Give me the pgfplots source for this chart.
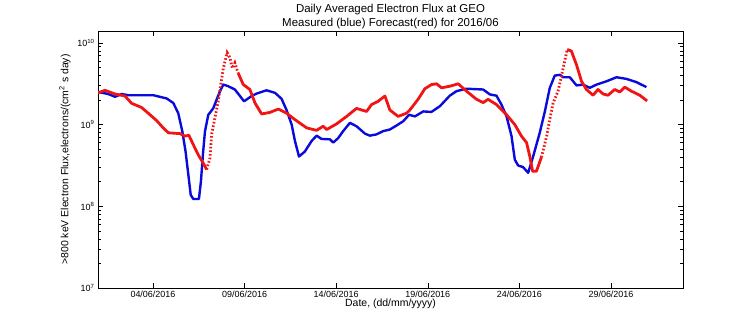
\documentclass[border=0pt]{standalone}
\usepackage{fontspec}
\setmainfont{Liberation Sans}
\usepackage{pgfplots}
\pgfplotsset{compat=1.18}
\definecolor{mblue}{RGB}{10,10,220}
\definecolor{mred}{RGB}{240,20,20}
\begin{document}
\begin{tikzpicture}
\path[use as bounding box] (0,0) rectangle (756bp,324bp);
\begin{axis}[
  at={(98bp,36bp)}, anchor=south west,
  scale only axis, width=585bp, height=257bp,
  ymode=log, xmin=1, xmax=32.93, ymin=1e7, ymax=1.4e10,
  axis line style={black, line width=0.6bp},
  tick align=inside, xtick pos=both, ytick pos=both,
  major tick length=5bp, minor tick length=3bp,
  tick style={black, line width=0.5bp},
  xtick={4,9,14,19,24,29},
  xticklabels={04/06/2016,09/06/2016,14/06/2016,19/06/2016,24/06/2016,29/06/2016},
  ytick={1e7,1e8,1e9,1e10},
  yticklabels={10\textsuperscript{7},10\textsuperscript{8},10\textsuperscript{9},10\textsuperscript{10}},
  ticklabel style={font=\fontsize{9}{10}\selectfont},
  xticklabel style={yshift=1bp},
  xlabel={Date, (dd/mm/yyyy)},
  ylabel={>800 keV Electron Flux,electrons/(cm\textsuperscript{2} s day)},
  label style={font=\fontsize{10.5}{12}\selectfont},
  xlabel style={yshift=5bp},
  ylabel style={yshift=0bp},
  title={Daily Averaged Electron Flux at GEO\\Measured (blue) Forecast(red) for 2016/06},
  title style={align=center, font=\fontsize{11.5}{14}\selectfont, yshift=-7bp},
]
\addplot[mblue, line width=2.4bp, line join=round] coordinates {
(1.0,2.51e9)(1.56,2.37e9)(1.93,2.19e9)(2.29,2.37e9)(2.65,2.29e9)(4.02,2.29e9)
(4.75,2.09e9)(5.11,1.84e9)(5.38,1.38e9)(5.60,8.32e8)(5.78,4.68e8)(5.93,2.45e8)
(6.06,1.38e8)(6.20,1.23e8)(6.51,1.23e8)(6.62,2.04e8)(6.74,4.68e8)(6.84,8.32e8)
(7.02,1.32e9)(7.29,1.58e9)(7.48,2.04e9)(7.66,2.57e9)(7.84,3.09e9)(8.11,2.95e9)
(8.47,2.69e9)(8.75,2.24e9)(8.97,1.93e9)(9.39,2.24e9)(9.66,2.40e9)(10.20,2.63e9)
(10.66,2.45e9)(11.02,2.07e9)(11.29,1.51e9)(11.57,1.0e9)(11.75,6.31e8)(11.97,4.07e8)
(12.29,4.68e8)(12.66,6.31e8)(12.93,7.33e8)(13.20,6.68e8)(13.66,6.61e8)(13.84,6.03e8)
(14.11,6.84e8)(14.38,8.32e8)(14.75,1.05e9)(15.11,9.55e8)(15.57,7.76e8)(15.84,7.33e8)
(16.20,7.59e8)(16.56,8.32e8)(16.93,8.71e8)(17.30,9.77e8)(17.66,1.10e9)(17.98,1.32e9)
(18.30,1.26e9)(18.75,1.45e9)(19.20,1.43e9)(19.66,1.68e9)(20.20,2.26e9)(20.57,2.57e9)
(21.11,2.75e9)(22.02,2.69e9)(22.39,2.34e9)(22.75,2.26e9)(23.02,1.76e9)(23.30,1.26e9)
(23.57,7.24e8)(23.75,3.72e8)(23.93,3.16e8)(24.20,3.02e8)(24.48,2.57e8)(24.75,4.07e8)
(25.11,7.94e8)(25.39,1.45e9)(25.66,2.82e9)(25.93,3.98e9)(26.21,4.07e9)(26.39,3.80e9)
(26.75,3.80e9)(27.12,3.02e9)(27.48,3.09e9)(27.84,2.82e9)(28.21,3.09e9)(28.75,3.39e9)
(29.30,3.80e9)(29.84,3.63e9)(30.39,3.31e9)(30.93,2.88e9)
};
\addplot[mred, line width=2.8bp, line join=round] coordinates {
(1.0,2.45e9)(1.38,2.63e9)(1.93,2.37e9)(2.47,2.24e9)(2.84,1.82e9)(3.38,1.62e9)
(3.74,1.38e9)(4.20,1.12e9)(4.56,9.12e8)(4.84,7.94e8)(5.47,7.76e8)(5.75,7.24e8)
(5.96,7.41e8)(6.20,5.69e8)(6.47,4.27e8)(6.74,3.39e8)(6.93,2.82e8)
};
\addplot[mred, line width=2.8bp, dash pattern=on 1.6bp off 2.0bp] coordinates {
(6.93,2.82e8)(7.11,3.89e8)(7.20,7.59e8)(7.38,1.20e9)(7.56,1.93e9)(7.84,4.90e9)
(8.05,7.59e9)(8.20,6.61e9)(8.33,4.90e9)(8.47,5.69e9)(8.65,4.27e9)
};
\addplot[mred, line width=2.8bp, line join=round] coordinates {
(8.65,4.27e9)(8.93,3.09e9)(9.29,2.69e9)(9.57,1.84e9)(9.93,1.35e9)(10.38,1.41e9)
(10.84,1.55e9)(11.29,1.38e9)(11.75,1.15e9)(12.39,9.12e8)(12.93,8.51e8)(13.29,9.55e8)
(13.48,8.71e8)(14.02,1.02e9)(14.57,1.26e9)(15.11,1.58e9)(15.39,1.51e9)(15.66,1.45e9)
(15.93,1.76e9)(16.29,1.93e9)(16.66,2.24e9)(16.93,1.51e9)(17.38,1.26e9)(17.84,1.38e9)
(18.02,1.51e9)(18.47,2.04e9)(18.84,2.75e9)(19.20,3.09e9)(19.48,3.16e9)(19.75,2.82e9)
(20.20,2.95e9)(20.66,3.16e9)(21.11,2.57e9)(21.66,2.04e9)(22.02,1.86e9)(22.29,2.04e9)
(22.75,1.76e9)(23.30,1.32e9)(23.75,1.0e9)(24.11,7.24e8)(24.39,6.03e8)(24.57,4.07e8)
(24.72,2.69e8)(24.93,2.69e8)(25.20,3.98e8)
};
\addplot[mred, line width=2.8bp, dash pattern=on 1.6bp off 2.0bp] coordinates {
(25.20,3.98e8)(25.48,7.08e8)(25.66,1.17e9)(25.84,1.84e9)(26.11,2.57e9)(26.39,4.90e9)
(26.61,8.32e9)
};
\addplot[mred, line width=2.8bp, line join=round] coordinates {
(26.61,8.32e9)(26.84,7.94e9)(27.12,5.37e9)(27.39,3.39e9)(27.66,2.69e9)(28.02,2.29e9)
(28.29,2.69e9)(28.57,2.37e9)(28.84,2.29e9)(29.20,2.69e9)(29.48,2.51e9)(29.75,2.88e9)
(30.11,2.57e9)(30.57,2.29e9)(30.97,1.95e9)
};
\end{axis}
\end{tikzpicture}
\end{document}
